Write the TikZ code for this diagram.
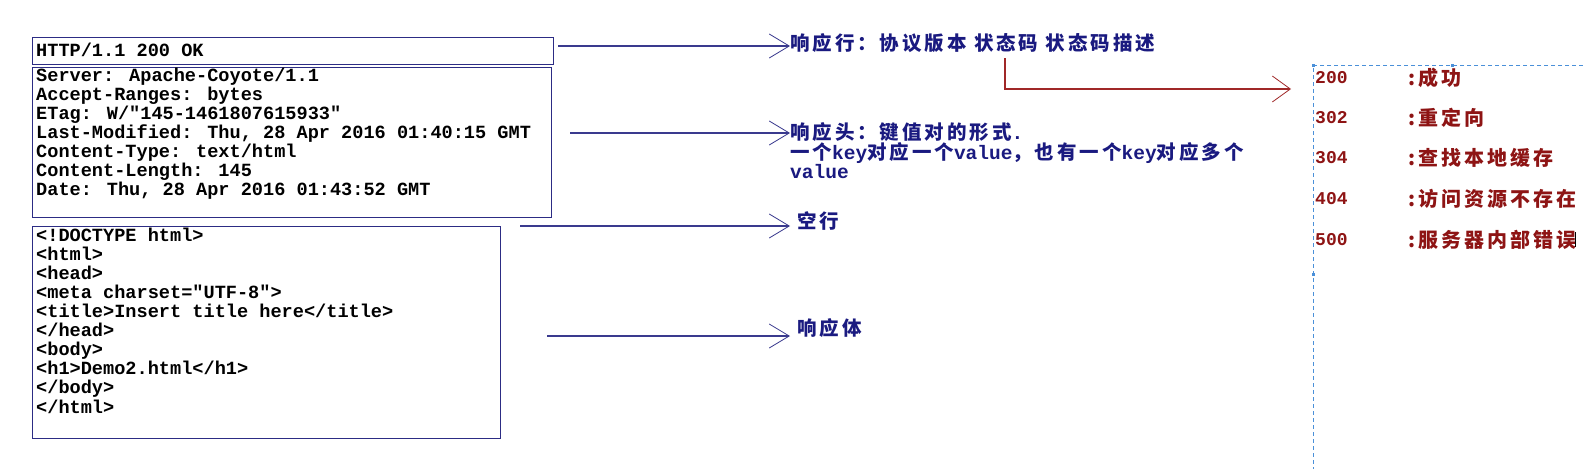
\documentclass[tikz,border=0pt]{standalone}
\usepackage{fontspec}
\usetikzlibrary{arrows.meta}
\newfontfamily\cjk[LetterSpace=15]{Noto Sans CJK SC}
\newfontfamily\mono{Liberation Mono}
\definecolor{navy}{HTML}{1A1A80}
\definecolor{arrblue}{HTML}{3A3A8E}
\definecolor{boxblue}{HTML}{2C2C84}
\definecolor{dred}{HTML}{8E1414}
\definecolor{lred}{HTML}{A02828}
\definecolor{dashblue}{HTML}{4A90D9}
\tikzset{
  box/.style={draw=boxblue, line width=1pt, inner sep=0pt, anchor=north west},
  codetext/.style={anchor=north west, inner sep=0pt, align=left, text=black,
    font=\mono\bfseries\fontsize{18.6}{19.1}\selectfont},
  lbl/.style={anchor=west, inner sep=0pt, align=left, text=navy,
    font=\cjk\bfseries\fontsize{19.5}{19}\selectfont},
  arr/.style={draw=arrblue, line width=1.1pt, -{Straight Barb[length=20pt,width=24pt,line width=0.8pt]}},
  rarr/.style={draw=lred, line width=1.1pt, -{Straight Barb[length=18pt,width=26pt,line width=0.8pt]}},
  code/.style={anchor=west, inner sep=0pt, text=dred, font=\mono\bfseries\fontsize{18}{20}\selectfont},
  desc/.style={anchor=west, inner sep=0pt, text=dred, font=\cjk\bfseries\fontsize{20}{20}\selectfont},
  handle/.style={fill=dashblue, minimum size=3pt, inner sep=0pt}
}
\begin{document}
\begin{tikzpicture}[x=1pt,y=-1pt]
\useasboundingbox[fill=white] (0,0) rectangle (1583,469);

% boxes
\node[box, minimum width=521pt, minimum height=27pt] (b1) at (32,37) {};
\node[box, minimum width=519pt, minimum height=150pt] (b2) at (32,67) {};
\node[box, minimum width=468pt, minimum height=212pt] (b3) at (32,226) {};

% box texts
\node[codetext] (t1) at (36,43) {HTTP/1.1 200 OK};
\node[codetext] (t2) at (36,67.5) {Server: Apache-Coyote/1.1\\
Accept-Ranges: bytes\\
ETag: W/"145-1461807615933"\\
Last-Modified: Thu, 28 Apr 2016 01:40:15 GMT\\
Content-Type: text/html\\
Content-Length: 145\\
Date: Thu, 28 Apr 2016 01:43:52 GMT};
\node[codetext] (t3) at (36,227.5) {<!DOCTYPE html>\\
<html>\\
<head>\\
<meta charset="UTF-8">\\
<title>Insert title here</title>\\
</head>\\
<body>\\
<h1>Demo2.html</h1>\\
</body>\\
</html>};

% labels
\node[lbl] (l1) at (790,43) {响应行：协议版本 状态码 状态码描述};
\node[lbl, anchor=north west] (l2) at (790,122) {响应头：键值对的形式{\mono .}\\
一个{\mono key}对应一个{\mono value}，也有一个{\mono key}对应多个\\
{\mono value}};
\node[lbl] (l3) at (797,221) {空行};
\node[lbl] (l4) at (797,328) {响应体};

% arrows
\coordinate (a1) at (558,46);
\coordinate (a2) at (570,133);
\coordinate (a3) at (520,226);
\coordinate (a4) at (547,336);
\draw[arr] (a1) -- (a1 -| l1.west);
\draw[arr] (a2) -- (a2 -| l1.west);
\draw[arr] (a3) -- (a3 -| l1.west);
\draw[arr] (a4) -- (a4 -| l1.west);

% dashed frame
\coordinate (f0) at (1313,65);
\coordinate (f1) at (1583,65);
\coordinate (f2) at (1313,469);
\draw[dashblue, line width=0.9pt, dash pattern=on 4pt off 3pt] (f1) -- (f0) -- (f2);
\node[handle] (h1) at (f0) {};
\node[handle] (h2) at (1452,65) {};
\node[handle] (h3) at (1313,274) {};

% status codes
\node[code] (c1) at (1315,78) {200};
\node[code] (c2) at (1315,118) {302};
\node[code] (c3) at (1315,158) {304};
\node[code] (c4) at (1315,199) {404};
\node[code] (c5) at (1315,240) {500};
\node[desc] (d1) at (1408,78) {:成功};
\node[desc] (d2) at (1408,118) {:重定向};
\node[desc] (d3) at (1408,158) {:查找本地缓存};
\node[desc] (d4) at (1408,199) {:访问资源不存在};
\node[desc] (d5) at (1408,240) {:服务器内部错误};
\draw[black, line width=0.8pt] ([xshift=-1pt,yshift=-7pt]d5.east) -- ([xshift=-1pt,yshift=8pt]d5.east);

% red connector
\coordinate (r0) at (1005,58);
\coordinate (r1) at (1005,89);
\draw[rarr] (r0) -- (r1) -- ([xshift=-22pt]r1 -| f0);
\end{tikzpicture}
\end{document}
